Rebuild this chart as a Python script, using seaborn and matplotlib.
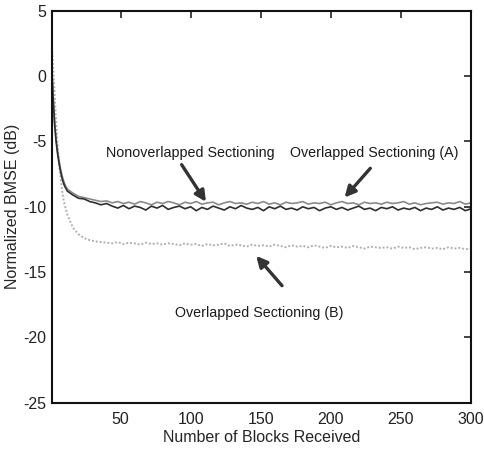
import numpy as np
import pandas as pd
import seaborn as sns
import matplotlib.pyplot as plt

sns.set_theme(style="white")
plt.rcParams["font.family"] = ["Liberation Sans", "DejaVu Sans"]
plt.rcParams["axes.unicode_minus"] = False

# block index: first 12 blocks individually, then every 4th block
blocks = list(range(1, 13)) + list(range(16, 301, 4))

nonoverlapped = [
    0.3, -2.0, -3.8, -5.0, -5.9, -6.6, -7.2, -7.7, -8.1, -8.4, -8.6, -8.8,
    -9.1, -9.35, -9.4, -9.6, -9.7, -9.85, -9.75, -9.95,
    -10.1, -9.9, -10.15, -9.95, -10.05, -10.25, -9.95, -10.1,
    -9.9, -10.2, -10.05, -9.95, -10.15, -10.0, -10.3, -10.05,
    -10.2, -9.95, -10.1, -10.25, -10.0, -10.15, -9.9, -10.1,
    -10.2, -10.05, -10.3, -10.0, -10.15, -9.95, -10.2, -10.1,
    -10.25, -10.0, -10.15, -10.05, -10.3, -10.1, -10.0, -10.2,
    -10.05, -10.25, -10.1, -9.95, -10.2, -10.1, -10.3, -10.05,
    -10.15, -10.0, -10.25, -10.1, -10.2, -10.05, -10.3, -10.1,
    -10.2, -10.0, -10.25, -10.1, -10.2, -10.05, -10.3, -10.15,
]

overlapped_a = [
    0.6, -1.7, -3.5, -4.8, -5.7, -6.4, -7.0, -7.5, -7.9, -8.2, -8.45, -8.65,
    -8.95, -9.2, -9.3, -9.4, -9.5, -9.6, -9.55, -9.7,
    -9.6, -9.75, -9.65, -9.8, -9.6, -9.7, -9.85, -9.65,
    -9.75, -9.6, -9.7, -9.85, -9.65, -9.75, -9.6, -9.8,
    -9.7, -9.65, -9.85, -9.7, -9.6, -9.75, -9.7, -9.8,
    -9.65, -9.75, -9.6, -9.8, -9.7, -9.85, -9.65, -9.75,
    -9.7, -9.6, -9.8, -9.7, -9.75, -9.65, -9.85, -9.7,
    -9.6, -9.75, -9.7, -9.85, -9.65, -9.75, -9.7, -9.8,
    -9.65, -9.75, -9.7, -9.6, -9.8, -9.7, -9.85, -9.75,
    -9.7, -9.65, -9.8, -9.7, -9.75, -9.6, -9.8, -9.7,
]

overlapped_b = [
    2.2, 0.5, -1.5, -3.5, -5.2, -6.5, -7.6, -8.5, -9.3, -9.8, -10.2, -10.6,
    -11.6, -12.1, -12.4, -12.55, -12.65, -12.7, -12.75, -12.8,
    -12.7, -12.85, -12.75, -12.8, -12.9, -12.75, -12.85, -12.8,
    -12.9, -12.8, -12.85, -12.95, -12.8, -12.9, -12.85, -13.0,
    -12.85, -12.95, -12.9, -12.8, -13.0, -12.9, -12.95, -13.05,
    -12.9, -13.0, -12.95, -13.05, -12.9, -13.0, -13.1, -12.95,
    -13.05, -13.0, -13.1, -12.95, -13.05, -13.15, -13.0, -13.1,
    -13.05, -13.15, -13.0, -13.1, -13.2, -13.05, -13.1, -13.15,
    -13.1, -13.2, -13.05, -13.15, -13.1, -13.25, -13.15, -13.1,
    -13.2, -13.15, -13.25, -13.1, -13.2, -13.15, -13.25, -13.2,
]

xticks = [50, 100, 150, 200, 250, 300]
yticks = [5, 0, -5, -10, -15, -20, -25]

dat = pd.DataFrame({
    "block": blocks,
    "Nonoverlapped": nonoverlapped,
    "A": overlapped_a,
    "B": overlapped_b,
})

fig = plt.figure(figsize=(4.85, 4.5), dpi=100)
ax = fig.add_axes([0.107, 0.105, 0.864, 0.871])

sns.lineplot(data=dat, x="block", y="B", color="#b0b0b0", linewidth=1.4,
             linestyle=(0, (1, 1)), ax=ax)
sns.lineplot(data=dat, x="block", y="A", color="#8a8a8a", linewidth=1.2, ax=ax)
sns.lineplot(data=dat, x="block", y="Nonoverlapped", color="#2e2e2e",
             linewidth=1.2, ax=ax)

ax.set_xlim(1, 300)
ax.set_ylim(-25, 5)
ax.set_xticks(xticks)
ax.set_yticks(yticks)
ax.set_xlabel("Number of Blocks Received", fontsize=11.5, labelpad=2)
ax.set_ylabel("Normalized BMSE (dB)", fontsize=11.5, labelpad=2)
ax.tick_params(direction="in", length=5, width=1.2, top=True, right=True,
               labelsize=11.5, colors="#222222")
ax.tick_params(axis="x", pad=7)
ax.tick_params(axis="y", pad=4)
for sp in ax.spines.values():
    sp.set_color("#111111")
    sp.set_linewidth(1.5)

lab = dict(fontsize=10.3, ha="center", va="center", color="#1a1a1a")
arr = dict(arrowstyle="-|>", color="#333333", lw=2.4, mutation_scale=16)

ax.text(100, -5.9, "Nonoverlapped Sectioning", **lab)
ax.annotate("", xy=(112, -9.8), xytext=(92.5, -6.6), arrowprops=arr)
ax.text(231, -5.9, "Overlapped Sectioning (A)", **lab)
ax.annotate("", xy=(208.5, -9.45), xytext=(229.5, -6.9), arrowprops=arr)
ax.text(149, -18.1, "Overlapped Sectioning (B)", **lab)
ax.annotate("", xy=(145.5, -13.6), xytext=(166.5, -16.2), arrowprops=arr)

plt.savefig("out.png", dpi=100)
